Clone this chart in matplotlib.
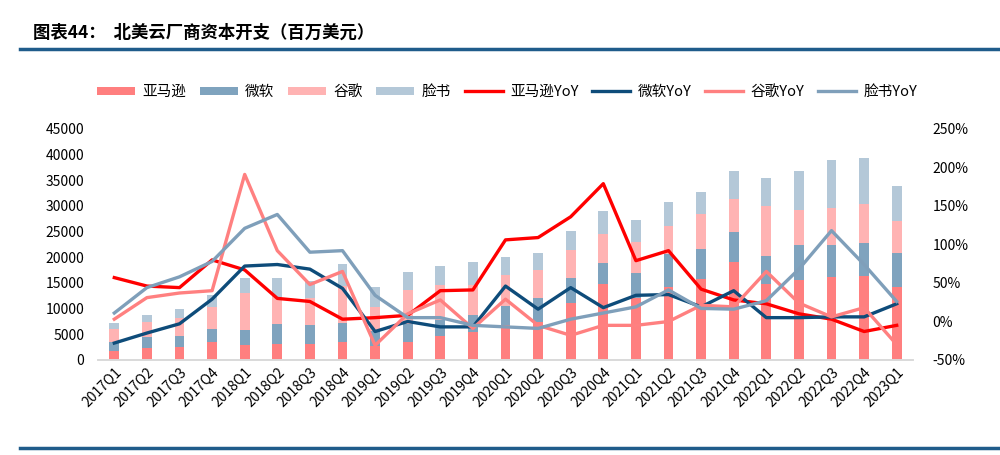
import matplotlib
matplotlib.use("Agg")
import matplotlib.pyplot as plt
from matplotlib.lines import Line2D
import numpy as np

plt.rcParams['font.family'] = ['Noto Sans CJK SC', 'DejaVu Sans']

quarters = ['2017Q1', '2017Q2', '2017Q3', '2017Q4', '2018Q1', '2018Q2', '2018Q3', '2018Q4',
            '2019Q1', '2019Q2', '2019Q3', '2019Q4', '2020Q1', '2020Q2', '2020Q3', '2020Q4',
            '2021Q1', '2021Q2', '2021Q3', '2021Q4', '2022Q1', '2022Q2', '2022Q3', '2022Q4',
            '2023Q1']

# 资本开支（百万美元）
amazon = [1750, 2300, 2550, 3500, 2900, 3050, 3180, 3510, 2730, 3440, 4610, 5500,
          6795, 7459, 11063, 14823, 12082, 14288, 15748, 19078, 14900, 15590, 16230, 16430, 14207]
microsoft = [1700, 2240, 2130, 2540, 2880, 3980, 3570, 3760, 3000, 3570, 3270, 3330,
             3690, 4680, 4930, 4160, 4930, 6300, 5780, 5840, 5340, 6810, 6170, 6300, 6607]
google = [2508, 2831, 3538, 4307, 7299, 5330, 5282, 7100, 4638, 6560, 6730, 5850,
          6005, 5391, 5406, 5479, 5942, 5496, 6819, 6383, 9786, 6828, 7276, 7595, 6289]
meta = [1271, 1444, 1755, 2262, 2812, 3700, 3342, 4370, 3837, 3640, 3640, 4350,
        3558, 3255, 3689, 4613, 4272, 4612, 4313, 5503, 5441, 7528, 9375, 9043, 6842]

# 同比增速（%）
amazon_yoy = [57, 46, 44, 80, 67, 30, 26, 3, 5, 8, 40, 41, 106, 109, 136, 179,
              79, 92, 42, 28, 23, 10, 3, -13, -5]
microsoft_yoy = [-28, -15, -3, 29, 72, 74, 68, 43, -13, 0, -7, -7, 46, 16, 44, 18,
                 34, 35, 19, 40, 5, 5, 6, 6, 23]
google_yoy = [3, 31, 37, 40, 191, 92, 48, 65, -31, 10, 28, -9, 29, -5, -18, -5,
              -5, 0, 21, 19, 65, 24, 6, 18, -30]
meta_yoy = [11, 44, 58, 78, 121, 139, 90, 92, 34, 5, 5, -5, -7, -9, 3, 11,
            19, 41, 17, 16, 27, 68, 118, 74, 26]

c_amz, c_ms, c_goog, c_meta = '#FF7F7F', '#7FA3BE', '#FFB3B3', '#B4C8D8'
l_amz, l_ms, l_goog, l_meta = '#FF0000', '#0E4C7A', '#FF8080', '#7F9FBA'

fig = plt.figure(figsize=(10, 4.55), dpi=100)
ax = fig.add_axes([0.098, 0.2088, 0.815, 0.5077])
ax2 = ax.twinx()

x = np.arange(len(quarters))
w = 0.3
b1 = np.array(amazon)
b2 = b1 + np.array(microsoft)
b3 = b2 + np.array(google)
ax.bar(x, amazon, w, color=c_amz, label='亚马逊')
ax.bar(x, microsoft, w, bottom=b1, color=c_ms, label='微软')
ax.bar(x, google, w, bottom=b2, color=c_goog, label='谷歌')
ax.bar(x, meta, w, bottom=b3, color=c_meta, label='脸书')

lw = 2.4
ax2.plot(x, amazon_yoy, color=l_amz, lw=lw, label='亚马逊YoY')
ax2.plot(x, microsoft_yoy, color=l_ms, lw=lw, label='微软YoY')
ax2.plot(x, google_yoy, color=l_goog, lw=lw, label='谷歌YoY')
ax2.plot(x, meta_yoy, color=l_meta, lw=lw, label='脸书YoY')

ax.set_xlim(-0.5, len(quarters) - 0.5)
ax.set_ylim(0, 45000)
ax.set_yticks(np.arange(0, 45001, 5000))
ax2.set_ylim(-50, 250)
ax2.set_yticks(np.arange(-50, 251, 50))
ax2.set_yticklabels([f'{v}%' for v in range(-50, 251, 50)])

ax.set_xticks(x)
ax.set_xticklabels(quarters, rotation=45, ha='right', rotation_mode='anchor', fontsize=9.5)
for a in (ax, ax2):
    for s in ['top', 'left', 'right']:
        a.spines[s].set_visible(False)
    a.spines['bottom'].set_color('#D9D9D9')
    a.spines['bottom'].set_linewidth(1.2)
    a.tick_params(length=0, labelsize=10)
ax.tick_params(axis='y', pad=10)
ax2.tick_params(axis='y', pad=14)
ax.tick_params(axis='x', pad=4)

h1, lab1 = ax.get_legend_handles_labels()
h2, lab2 = ax2.get_legend_handles_labels()
fig.legend(h1 + h2, lab1 + lab2, loc='center', bbox_to_anchor=(0.507, 0.798), ncol=8,
           frameon=False, fontsize=10.5, handlelength=2.6, handleheight=0.5,
           columnspacing=0.95, handletextpad=0.5)

fig.text(0.033, 0.927, '图表44：  北美云厂商资本开支（百万美元）', fontsize=12.5,
         fontweight='bold', va='center', ha='left')
fig.add_artist(Line2D([0.02, 1.0], [0.892, 0.892], color='#1F5C8B', lw=2.5))
fig.add_artist(Line2D([0.02, 1.0], [0.0154, 0.0154], color='#1F5C8B', lw=2.5))

fig.savefig('out.png', dpi=100)
